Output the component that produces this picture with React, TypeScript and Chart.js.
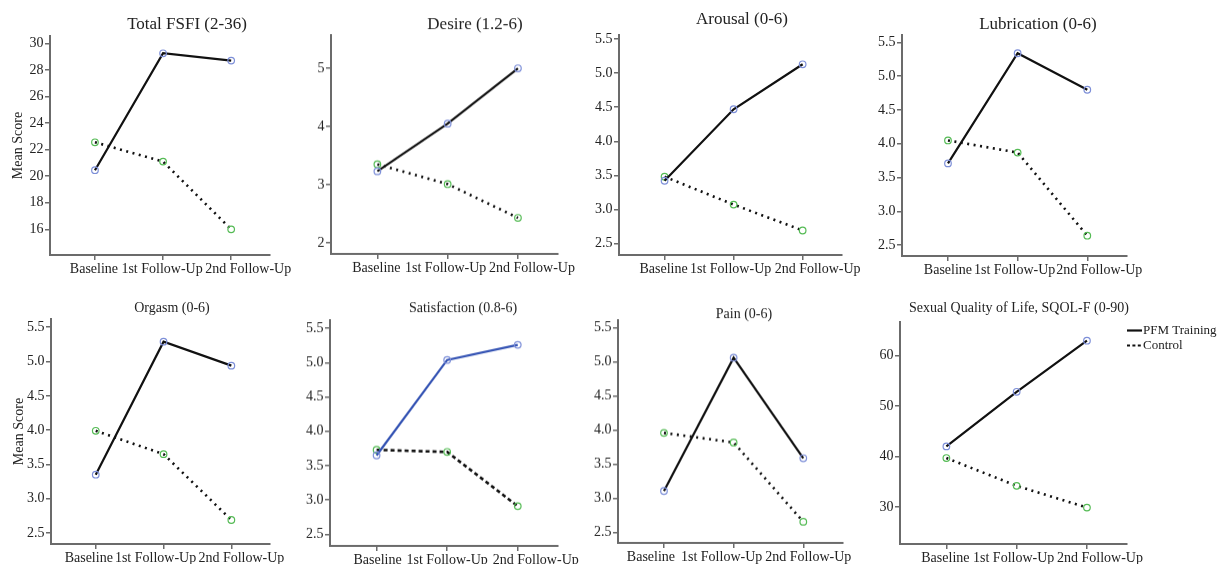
import React, { useEffect, useRef } from 'react';
import { Chart, registerables } from 'chart.js';

Chart.register(...registerables);

// ---------- data ----------
const categories = ['Baseline', '1st Follow-Up', '2nd Follow-Up'];
const seriesNames = ['PFM Training', 'Control'];

const fsfiPfm = [20.45, 29.25, 28.7];
const fsfiControl = [22.55, 21.1, 16.0];
const desirePfm = [3.23, 4.05, 5.0];
const desireControl = [3.35, 3.01, 2.43];
const arousalPfm = [3.42, 4.47, 5.13];
const arousalControl = [3.48, 3.07, 2.69];
const lubricationPfm = [3.71, 5.34, 4.8];
const lubricationControl = [4.05, 3.87, 2.64];
const orgasmPfm = [3.35, 5.29, 4.94];
const orgasmControl = [3.99, 3.65, 2.69];
const satisfactionPfm = [3.65, 5.04, 5.26];
const satisfactionControl = [3.73, 3.7, 2.91];
const painPfm = [3.11, 5.06, 3.59];
const painControl = [3.96, 3.82, 2.66];
const sqolPfm = [42.0, 52.8, 62.9];
const sqolControl = [39.7, 34.2, 29.9];

const fsfiTicks = [16, 18, 20, 22, 24, 26, 28, 30];
const desireTicks = [2, 3, 4, 5];
const halfTicks = [2.5, 3.0, 3.5, 4.0, 4.5, 5.0, 5.5];
const sqolTicks = [30, 40, 50, 60];

const titles = [
  'Total FSFI (2-36)',
  'Desire (1.2-6)',
  'Arousal (0-6)',
  'Lubrication (0-6)',
  'Orgasm (0-6)',
  'Satisfaction (0.8-6)',
  'Pain (0-6)',
  'Sexual Quality of Life, SQOL-F (0-90)',
];
const yAxisTitle = 'Mean Score';

// ---------- styling / layout ----------
const FONT = '"Liberation Serif", "Times New Roman", serif';
const AXIS = '#6b6b6b';
const TEXT = '#222222';
const X_MIN = -0.66;
const X_MAX = 2.57;
const WY = 48;
const TICK_LEN = 5;

type Layout = {
  left: number; right: number; top: number; bottom: number; rowTop: number;
  titleX: number; titleY: number; titleSize: number; hx: number; padRight: number;
  labelShift: number[]; labelSize: number;
};

type Spec = {
  title: string; pfm: number[]; control: number[]; ticks: number[]; decimals: number;
  yMin: number; yMax: number; yTitle: boolean; legend: boolean;
  pfmColor: string; controlDash: number[]; layout: Layout;
};

const specs: Spec[] = [
  { title: titles[0], pfm: fsfiPfm, control: fsfiControl, ticks: fsfiTicks, decimals: 0, yMin: 14.07, yMax: 30.55, yTitle: true, legend: false, pfmColor: '#111111', controlDash: [2, 4.5],
    layout: { left: 50, right: 270, top: 36, bottom: 255, rowTop: 0, titleX: 187, titleY: 25, titleSize: 17, hx: 28, padRight: 45, labelShift: [-1, -1, 17], labelSize: 14 } },
  { title: titles[1], pfm: desirePfm, control: desireControl, ticks: desireTicks, decimals: 0, yMin: 1.81, yMax: 5.57, yTitle: false, legend: false, pfmColor: '#111111', controlDash: [2, 4.5],
    layout: { left: 331, right: 558, top: 35, bottom: 253.5, rowTop: 0, titleX: 475, titleY: 25, titleSize: 17, hx: 28, padRight: 45, labelShift: [-1, -2, 14], labelSize: 14 } },
  { title: titles[2], pfm: arousalPfm, control: arousalControl, ticks: halfTicks, decimals: 1, yMin: 2.33, yMax: 5.56, yTitle: false, legend: false, pfmColor: '#111111', controlDash: [2, 4.5],
    layout: { left: 619, right: 842, top: 35, bottom: 255, rowTop: 0, titleX: 742, titleY: 20, titleSize: 17, hx: 28, padRight: 45, labelShift: [-1, -3, 15], labelSize: 14 } },
  { title: titles[3], pfm: lubricationPfm, control: lubricationControl, ticks: halfTicks, decimals: 1, yMin: 2.34, yMax: 5.61, yTitle: false, legend: false, pfmColor: '#111111', controlDash: [2, 4.5],
    layout: { left: 902, right: 1127, top: 35, bottom: 256, rowTop: 0, titleX: 1038, titleY: 25, titleSize: 17, hx: 28, padRight: 45, labelShift: [0, -3, 12], labelSize: 14 } },
  { title: titles[4], pfm: orgasmPfm, control: orgasmControl, ticks: halfTicks, decimals: 1, yMin: 2.34, yMax: 5.62, yTitle: true, legend: false, pfmColor: '#111111', controlDash: [2, 4.5],
    layout: { left: 51, right: 270, top: 319, bottom: 544, rowTop: 284, titleX: 172, titleY: 308, titleSize: 14, hx: 22, padRight: 45, labelShift: [-7, -8, 10], labelSize: 14 } },
  { title: titles[5], pfm: satisfactionPfm, control: satisfactionControl, ticks: halfTicks, decimals: 1, yMin: 2.33, yMax: 5.62, yTitle: false, legend: false, pfmColor: '#3352b3', controlDash: [4, 3],
    layout: { left: 330, right: 558, top: 320, bottom: 545.5, rowTop: 284, titleX: 463, titleY: 308, titleSize: 14, hx: 20, padRight: 45, labelShift: [1, 0, 18], labelSize: 14 } },
  { title: titles[6], pfm: painPfm, control: painControl, ticks: halfTicks, decimals: 1, yMin: 2.35, yMax: 5.61, yTitle: false, legend: false, pfmColor: '#111111', controlDash: [2, 4.5],
    layout: { left: 618, right: 843, top: 320, bottom: 542.5, rowTop: 284, titleX: 744, titleY: 314, titleSize: 14, hx: 22, padRight: 45, labelShift: [-13, -12, 5], labelSize: 14 } },
  { title: titles[7], pfm: sqolPfm, control: sqolControl, ticks: sqolTicks, decimals: 0, yMin: 22.7, yMax: 66.6, yTitle: false, legend: true, pfmColor: '#111111', controlDash: [2, 4.5],
    layout: { left: 900, right: 1127, top: 322, bottom: 544, rowTop: 284, titleX: 1019, titleY: 308, titleSize: 14, hx: 20, padRight: 95, labelShift: [-1, -3, 13], labelSize: 14 } },
];

function Panel({ spec }: { spec: Spec }) {
  const ref = useRef<HTMLCanvasElement | null>(null);
  const L = spec.layout;
  const canvasLeft = L.left - WY;
  const canvasTop = L.rowTop;
  const width = WY + (L.right - L.left) + L.padRight;
  const height = L.bottom - L.rowTop + L.hx;
  const pxPerUnit = (L.right - L.left) / (X_MAX - X_MIN);

  useEffect(() => {
    if (!ref.current) return;
    const titlePlugin = {
      id: 'panelTitle',
      afterDraw(chart: any) {
        const ctx = chart.ctx;
        ctx.save();
        ctx.font = `${L.titleSize}px ${FONT}`;
        ctx.fillStyle = TEXT;
        ctx.textAlign = 'center';
        ctx.textBaseline = 'middle';
        ctx.fillText(spec.title, L.titleX - canvasLeft, L.titleY - canvasTop);
        ctx.restore();
      },
    };
    const legendPlugin = {
      id: 'sideLegend',
      afterDraw(chart: any) {
        if (!spec.legend) return;
        const ctx = chart.ctx;
        const x0 = chart.chartArea.right;
        const y0 = chart.chartArea.top + 8.5;
        chart.data.datasets.forEach((ds: any, i: number) => {
          const y = y0 + i * 15;
          ctx.save();
          ctx.strokeStyle = '#111111';
          ctx.lineWidth = 2.2;
          ctx.setLineDash(ds.borderDash ? [3, 2.4] : []);
          ctx.beginPath();
          ctx.moveTo(x0, y);
          ctx.lineTo(x0 + 15, y);
          ctx.stroke();
          ctx.setLineDash([]);
          ctx.font = `13px ${FONT}`;
          ctx.fillStyle = TEXT;
          ctx.textAlign = 'left';
          ctx.textBaseline = 'middle';
          ctx.fillText(ds.label, x0 + 16, y);
          ctx.restore();
        });
      },
    };

    const gridOpts = { drawOnChartArea: false, drawTicks: true, tickLength: TICK_LEN, color: AXIS, lineWidth: 1.5 };
    const borderOpts = { display: true, color: AXIS, width: 2 };

    const chart = new Chart(ref.current, {
      type: 'line',
      data: {
        datasets: [
          {
            label: seriesNames[0],
            data: spec.pfm.map((y, i) => ({ x: i, y })),
            borderColor: spec.pfmColor,
            borderWidth: 2.2,
            tension: 0,
            pointRadius: 3.3,
            pointBorderWidth: 1.2,
            pointBorderColor: '#7d8fd8',
            pointBackgroundColor: 'rgba(255,255,255,0)',
          },
          {
            label: seriesNames[1],
            data: spec.control.map((y, i) => ({ x: i, y })),
            borderColor: '#111111',
            borderWidth: 2.6,
            borderDash: spec.controlDash,
            borderCapStyle: 'butt',
            tension: 0,
            pointRadius: 3.3,
            pointBorderWidth: 1.2,
            pointBorderColor: '#55bb55',
            pointBackgroundColor: 'rgba(255,255,255,0)',
          },
        ],
      },
      options: {
        responsive: false,
        maintainAspectRatio: false,
        animation: false,
        devicePixelRatio: 1,
        layout: { padding: { left: 0, top: L.top - L.rowTop, right: L.padRight, bottom: 0 } },
        plugins: { legend: { display: false }, tooltip: { enabled: false }, title: { display: false } },
        scales: {
          x: {
            type: 'linear',
            position: 'bottom',
            weight: 0,
            min: X_MIN,
            max: X_MAX,
            afterBuildTicks: (s: any) => { s.ticks = categories.map((_, i) => ({ value: i })); },
            afterFit: (s: any) => { s.height = TICK_LEN; },
            ticks: { display: false },
            grid: gridOpts,
            border: borderOpts,
          },
          xLabels: {
            type: 'linear',
            position: 'bottom',
            weight: 1,
            min: X_MIN,
            max: X_MAX,
            afterBuildTicks: (s: any) => {
              s.ticks = categories.map((_, i) => ({ value: i + L.labelShift[i] / pxPerUnit }));
            },
            afterFit: (s: any) => { s.height = L.hx - TICK_LEN; },
            ticks: {
              autoSkip: false, maxRotation: 0, minRotation: 0, padding: 1, color: TEXT,
              font: { family: FONT, size: L.labelSize },
              callback: (_v: any, index: number) => categories[index] ?? '',
            },
            grid: { display: false, drawTicks: false, tickLength: 0 },
            border: { display: false },
          },
          y: {
            type: 'linear',
            min: spec.yMin,
            max: spec.yMax,
            afterBuildTicks: (s: any) => { s.ticks = spec.ticks.map((v) => ({ value: v })); },
            afterFit: (s: any) => { s.width = WY; },
            ticks: {
              padding: 1.5, color: TEXT,
              font: { family: FONT, size: 14 },
              callback: (v: any) => Number(v).toFixed(spec.decimals),
            },
            title: {
              display: spec.yTitle, text: yAxisTitle, color: TEXT,
              font: { family: FONT, size: 14 }, padding: { top: 7.6, bottom: 0 },
            },
            grid: gridOpts,
            border: borderOpts,
          },
        },
      },
      plugins: [titlePlugin, legendPlugin],
    } as any);
    return () => chart.destroy();
  }, []);

  return (
    <canvas
      ref={ref}
      width={width}
      height={height}
      style={{ position: 'absolute', left: canvasLeft, top: canvasTop, width, height }}
    />
  );
}

export default function App() {
  return (
    <div style={{ position: 'absolute', left: 0, top: 0, width: 1220, height: 564, overflow: 'hidden', background: '#ffffff' }}>
      {specs.map((s, i) => <Panel key={i} spec={s} />)}
    </div>
  );
}
